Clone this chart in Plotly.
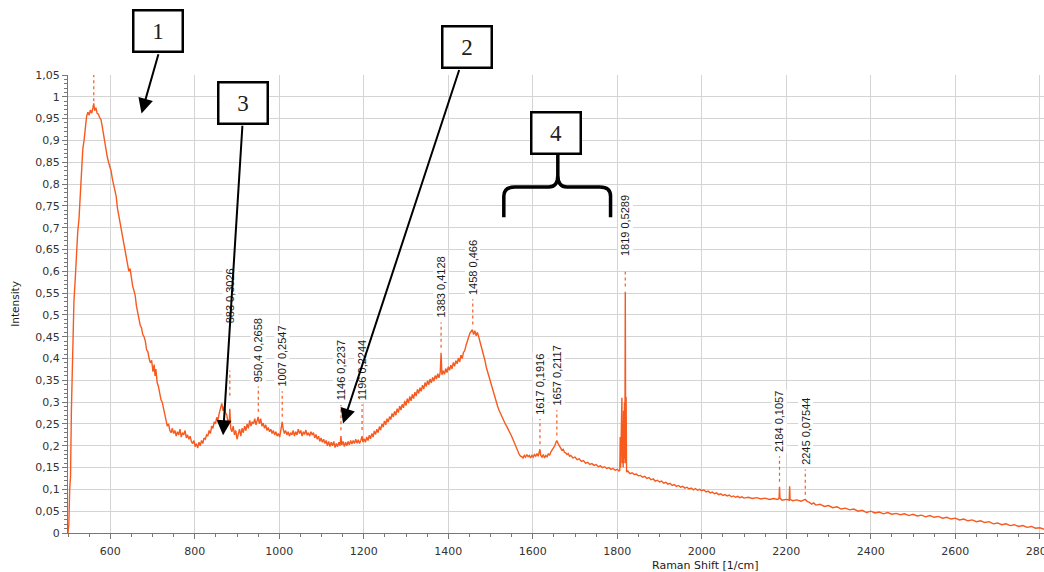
import plotly.graph_objects as go

# ---------------- data ----------------
# spectrum, (Raman shift [1/cm], intensity) pairs, split into regions
rise_and_band = [
    (500, 0.0), (502, 0.02), (504, 0.10), (506, 0.13), (508, 0.28), (510, 0.38),
    (512, 0.45), (514, 0.53), (517, 0.58), (520, 0.64), (523, 0.69), (526, 0.72),
    (529, 0.78), (532, 0.84), (535, 0.88), (538, 0.90), (541, 0.93), (544, 0.955),
    (547, 0.965), (550, 0.958), (553, 0.97), (556, 0.962), (559, 0.975), (561, 0.985),
    (563, 0.968), (566, 0.975), (569, 0.962), (572, 0.96), (575, 0.952), (578, 0.948),
    (581, 0.932), (584, 0.912), (587, 0.89), (590, 0.876), (593, 0.862), (596, 0.85),
    (599, 0.842), (602, 0.83), (605, 0.812), (608, 0.80), (611, 0.79), (614, 0.772),
    (617, 0.745), (620, 0.728), (623, 0.712), (626, 0.70), (629, 0.685), (632, 0.668),
    (635, 0.65), (638, 0.632), (641, 0.615), (644, 0.60), (647, 0.606), (650, 0.58),
    (653, 0.566), (656, 0.556), (659, 0.545), (662, 0.52), (665, 0.502), (668, 0.49),
    (671, 0.476), (674, 0.47), (677, 0.455), (680, 0.45), (683, 0.44), (686, 0.42),
    (689, 0.416), (692, 0.40), (695, 0.39), (698, 0.396), (701, 0.37), (704, 0.386),
    (706, 0.36), (708, 0.376), (711, 0.345), (714, 0.336), (717, 0.32), (720, 0.306),
    (723, 0.30), (726, 0.285), (729, 0.27), (732, 0.255), (735, 0.245), (738, 0.25),
    (741, 0.235), (744, 0.23), (747, 0.24), (750, 0.228), (753, 0.235), (756, 0.222),
    (759, 0.232), (762, 0.225), (765, 0.238), (768, 0.22), (771, 0.23), (774, 0.225),
    (777, 0.235), (780, 0.218), (783, 0.225), (786, 0.215), (789, 0.222), (792, 0.21),
    (795, 0.205), (798, 0.212), (801, 0.198), (804, 0.205), (807, 0.195), (810, 0.208),
]
fingerprint = [
    (813, 0.20), (816, 0.212), (819, 0.205), (822, 0.218), (825, 0.215), (828, 0.225),
    (831, 0.222), (834, 0.235), (837, 0.228), (840, 0.245), (843, 0.24), (846, 0.255),
    (849, 0.25), (852, 0.265), (855, 0.26), (858, 0.275), (861, 0.285), (864, 0.297),
    (867, 0.28), (870, 0.29), (873, 0.275), (876, 0.27), (879, 0.25), (882, 0.262),
    (883, 0.285), (885, 0.24), (888, 0.232), (891, 0.245), (894, 0.225), (897, 0.235),
    (900, 0.215), (903, 0.228), (906, 0.238), (909, 0.222), (912, 0.24), (915, 0.23),
    (918, 0.245), (921, 0.235), (924, 0.25), (927, 0.24), (930, 0.258), (933, 0.245),
    (936, 0.255), (939, 0.25), (942, 0.262), (945, 0.248), (948, 0.258), (950, 0.266),
    (953, 0.25), (956, 0.262), (959, 0.245), (962, 0.252), (965, 0.24), (968, 0.248),
    (971, 0.235), (974, 0.242), (977, 0.232), (980, 0.238), (983, 0.228), (986, 0.235),
    (989, 0.225), (992, 0.232), (995, 0.222), (998, 0.228), (1001, 0.22), (1004, 0.235),
    (1007, 0.255), (1009, 0.24), (1012, 0.228), (1015, 0.235), (1018, 0.225), (1021, 0.232),
    (1024, 0.222), (1027, 0.23), (1030, 0.225), (1033, 0.235), (1036, 0.222), (1039, 0.232),
    (1042, 0.225), (1045, 0.238), (1048, 0.228), (1051, 0.235), (1054, 0.222), (1057, 0.232),
    (1060, 0.226), (1063, 0.236), (1066, 0.224), (1069, 0.23), (1072, 0.222), (1075, 0.232),
    (1078, 0.225), (1081, 0.23), (1084, 0.218), (1087, 0.226), (1090, 0.215), (1093, 0.222),
    (1096, 0.21), (1099, 0.218), (1102, 0.208), (1105, 0.215), (1108, 0.205), (1111, 0.212),
    (1114, 0.20), (1117, 0.21), (1120, 0.198), (1123, 0.208), (1126, 0.20), (1129, 0.21),
    (1132, 0.196), (1135, 0.205), (1138, 0.198), (1141, 0.208), (1144, 0.20), (1146, 0.222),
    (1148, 0.202), (1151, 0.21), (1154, 0.198), (1157, 0.208), (1160, 0.20), (1163, 0.21),
    (1166, 0.202), (1169, 0.212), (1172, 0.204), (1175, 0.212), (1178, 0.205), (1181, 0.215),
    (1184, 0.206), (1187, 0.214), (1190, 0.205), (1193, 0.212), (1196, 0.222), (1198, 0.208),
]
ch_band = [
    (1201, 0.216), (1204, 0.208), (1207, 0.22), (1210, 0.212), (1213, 0.224), (1216, 0.216),
    (1219, 0.228), (1222, 0.22), (1225, 0.234), (1228, 0.226), (1231, 0.238), (1234, 0.23),
    (1237, 0.244), (1240, 0.236), (1243, 0.25), (1246, 0.243), (1249, 0.257), (1252, 0.248),
    (1255, 0.262), (1258, 0.254), (1261, 0.267), (1264, 0.26), (1267, 0.274), (1270, 0.266),
    (1273, 0.279), (1276, 0.27), (1279, 0.285), (1282, 0.276), (1285, 0.291), (1288, 0.282),
    (1291, 0.295), (1294, 0.287), (1297, 0.303), (1300, 0.292), (1303, 0.308), (1306, 0.298),
    (1309, 0.313), (1312, 0.303), (1315, 0.318), (1318, 0.308), (1321, 0.323), (1324, 0.314),
    (1327, 0.329), (1330, 0.32), (1333, 0.333), (1336, 0.325), (1339, 0.339), (1342, 0.33),
    (1345, 0.345), (1348, 0.336), (1351, 0.349), (1354, 0.34), (1357, 0.353), (1360, 0.344),
    (1363, 0.357), (1366, 0.348), (1369, 0.361), (1372, 0.353), (1375, 0.365), (1378, 0.356),
    (1381, 0.368), (1383, 0.413), (1385, 0.363), (1388, 0.372), (1391, 0.364), (1394, 0.377),
    (1397, 0.368), (1400, 0.381), (1403, 0.373), (1406, 0.385), (1409, 0.376), (1412, 0.391),
    (1415, 0.382), (1418, 0.395), (1421, 0.388), (1424, 0.401), (1427, 0.392), (1430, 0.408),
    (1433, 0.4), (1436, 0.414), (1439, 0.418), (1442, 0.43), (1445, 0.44), (1448, 0.452),
    (1451, 0.458), (1454, 0.462), (1457, 0.466), (1460, 0.455), (1463, 0.464), (1466, 0.452),
    (1469, 0.46), (1472, 0.45), (1475, 0.44), (1478, 0.43), (1481, 0.415), (1484, 0.405),
    (1487, 0.395), (1490, 0.38), (1493, 0.37), (1496, 0.355), (1499, 0.345), (1502, 0.335),
    (1505, 0.325), (1508, 0.315), (1511, 0.305), (1514, 0.298), (1517, 0.29), (1520, 0.282),
    (1523, 0.275), (1526, 0.268), (1529, 0.262), (1532, 0.255), (1535, 0.25), (1538, 0.245),
    (1541, 0.24), (1544, 0.235), (1547, 0.228), (1550, 0.222), (1553, 0.215), (1556, 0.208),
    (1559, 0.20), (1562, 0.192), (1565, 0.186), (1568, 0.18), (1571, 0.176), (1574, 0.175),
]
carbonyl_region = [
    (1577, 0.172), (1580, 0.178), (1583, 0.174), (1586, 0.18), (1589, 0.175), (1592, 0.178),
    (1595, 0.172), (1598, 0.178), (1601, 0.174), (1604, 0.18), (1607, 0.176), (1610, 0.182),
    (1613, 0.176), (1617, 0.192), (1619, 0.178), (1622, 0.174), (1625, 0.18), (1628, 0.172),
    (1631, 0.178), (1634, 0.175), (1637, 0.182), (1640, 0.178), (1643, 0.186), (1646, 0.19),
    (1649, 0.196), (1652, 0.20), (1655, 0.208), (1657, 0.212), (1660, 0.205), (1663, 0.20),
    (1666, 0.196), (1669, 0.19), (1672, 0.192), (1675, 0.185), (1678, 0.184), (1681, 0.18),
    (1684, 0.182), (1687, 0.176), (1690, 0.178), (1695, 0.172), (1700, 0.174), (1705, 0.168),
    (1710, 0.17), (1715, 0.164), (1720, 0.166), (1725, 0.16), (1730, 0.162), (1735, 0.157),
    (1740, 0.159), (1745, 0.155), (1750, 0.157), (1755, 0.152), (1760, 0.154), (1765, 0.15),
    (1770, 0.152), (1775, 0.148), (1780, 0.15), (1785, 0.146), (1790, 0.148), (1795, 0.144),
    (1800, 0.146), (1804, 0.142), (1806, 0.144), (1807, 0.22), (1808, 0.15), (1809, 0.27),
    (1810, 0.18), (1811, 0.31), (1812, 0.16), (1813, 0.24), (1814, 0.15), (1815, 0.28),
    (1816, 0.16), (1817, 0.30), (1818, 0.17), (1819, 0.553), (1820, 0.16), (1821, 0.312),
    (1822, 0.14), (1825, 0.142), (1830, 0.136),
]
tail = [
    (1835, 0.138), (1840, 0.134), (1845, 0.135), (1850, 0.131), (1855, 0.132), (1860, 0.128),
    (1865, 0.13), (1870, 0.125), (1875, 0.127), (1880, 0.122), (1885, 0.124), (1890, 0.119),
    (1895, 0.121), (1900, 0.117), (1905, 0.119), (1910, 0.114), (1915, 0.116), (1920, 0.112),
    (1925, 0.114), (1930, 0.109), (1935, 0.111), (1940, 0.107), (1945, 0.109), (1950, 0.105),
    (1955, 0.107), (1960, 0.103), (1965, 0.105), (1970, 0.101), (1975, 0.103), (1980, 0.099),
    (1985, 0.102), (1990, 0.098), (1995, 0.10), (2000, 0.097), (2005, 0.099), (2010, 0.094),
    (2015, 0.096), (2020, 0.092), (2025, 0.094), (2030, 0.09), (2035, 0.092), (2040, 0.088),
    (2045, 0.09), (2050, 0.086), (2055, 0.088), (2060, 0.085), (2065, 0.087), (2070, 0.083),
    (2075, 0.085), (2080, 0.082), (2085, 0.084), (2090, 0.081), (2095, 0.083), (2100, 0.08),
    (2110, 0.082), (2120, 0.079), (2130, 0.081), (2140, 0.078), (2150, 0.08), (2160, 0.077),
    (2170, 0.079), (2180, 0.077), (2183, 0.08), (2184, 0.106), (2185, 0.08), (2190, 0.075),
    (2200, 0.077), (2207, 0.075), (2208, 0.107), (2209, 0.077), (2215, 0.074), (2225, 0.076),
    (2235, 0.073), (2245, 0.077), (2250, 0.072), (2255, 0.07), (2260, 0.066), (2265, 0.069),
    (2270, 0.064), (2280, 0.066), (2290, 0.061), (2300, 0.063), (2310, 0.058), (2320, 0.06),
    (2330, 0.055), (2340, 0.057), (2350, 0.053), (2360, 0.055), (2370, 0.05), (2380, 0.052),
    (2390, 0.047), (2400, 0.05), (2410, 0.046), (2420, 0.048), (2430, 0.044), (2440, 0.047),
    (2450, 0.043), (2460, 0.045), (2470, 0.042), (2480, 0.044), (2490, 0.04), (2500, 0.043),
    (2510, 0.039), (2520, 0.041), (2530, 0.037), (2540, 0.04), (2550, 0.036), (2560, 0.038),
    (2570, 0.034), (2580, 0.036), (2590, 0.032), (2600, 0.034), (2610, 0.03), (2620, 0.032),
    (2630, 0.028), (2640, 0.03), (2650, 0.026), (2660, 0.028), (2670, 0.024), (2680, 0.026),
    (2690, 0.021), (2700, 0.023), (2710, 0.019), (2720, 0.021), (2730, 0.017), (2740, 0.019),
    (2750, 0.015), (2760, 0.017), (2770, 0.013), (2780, 0.015), (2790, 0.011), (2800, 0.012),
    (2812, 0.008),
]

# labelled peaks
peak_shift = [883, 950.4, 1007, 1146, 1196, 1383, 1458, 1617, 1657, 1819, 2184, 2245]
peak_value = ["0,3026", "0,2658", "0,2547", "0,2237", "0,2244", "0,4128", "0,466",
              "0,1916", "0,2117", "0,5289", "0,1057", "0,07544"]
# unlabelled (label off-scale) peak at the main band maximum
top_peak_shift = 561

# tick labels
y_tick_values = [i * 0.05 for i in range(22)]
y_tick_labels = ["0", "0,05", "0,1", "0,15", "0,2", "0,25", "0,3", "0,35", "0,4", "0,45",
                 "0,5", "0,55", "0,6", "0,65", "0,7", "0,75", "0,8", "0,85", "0,9", "0,95",
                 "1", "1,05"]
x_tick_values = [600, 800, 1000, 1200, 1400, 1600, 1800, 2000, 2200, 2400, 2600, 2800]

# callout boxes: text, centre (shift, intensity)
callout_text = ["1", "2", "3", "4"]
callout_x = [712, 1444, 914, 1654]
callout_y = [1.150, 1.115, 0.986, 0.917]
# arrows: start (tail) and tip
arrow_tail_x = [715, 1427, 913]
arrow_tail_y = [1.101, 1.065, 0.937]
arrow_tip_x = [674, 1151, 867]
arrow_tip_y = [0.962, 0.251, 0.224]

# ---------------- figure ----------------
X_RANGE = [500, 2810]
Y_RANGE = [0, 1.05]
LINE = "#f85a1e"
spectrum = rise_and_band + fingerprint + ch_band + carbonyl_region + tail
xs = [p[0] for p in spectrum]
ys = [p[1] for p in spectrum]

fig = go.Figure()
fig.add_trace(go.Scatter(x=xs, y=ys, mode="lines",
                         line=dict(color=LINE, width=1.4), hoverinfo="skip",
                         showlegend=False))

vals = [float(v.replace(",", ".")) for v in peak_value]
mx, my = [], []
for sx, v in zip(peak_shift, vals):
    base = 0.553 if sx == 1819 else v
    mx += [sx, sx, None]
    my += [base + 0.012, v + 0.07, None]
mx += [top_peak_shift, top_peak_shift]
my += [0.99, 1.06]
fig.add_trace(go.Scatter(x=mx, y=my, mode="lines",
                         line=dict(color=LINE, width=1.2, dash="dot"),
                         hoverinfo="skip", showlegend=False))

annotations = []
for sx, v, txt in zip(peak_shift, vals, peak_value):
    lab = (f"{sx:g}".replace(".", ",")) + " " + txt
    lift = 33
    if sx == 883:
        lift = 76
    elif sx == 1819:
        lift = 44
    annotations.append(dict(x=sx, y=v, xref="x", yref="y", text=lab, textangle=-90,
                            showarrow=False, xanchor="center", yanchor="bottom",
                            yshift=lift, bgcolor="white", borderpad=1,
                            font=dict(family="Liberation Sans, Arial", size=11,
                                      color="#1a1a1a")))

for tx, ty, hx, hy in zip(arrow_tail_x, arrow_tail_y, arrow_tip_x, arrow_tip_y):
    annotations.append(dict(x=hx, y=hy, ax=tx, ay=ty, xref="x", yref="y",
                            axref="x", ayref="y", text="", showarrow=True,
                            arrowhead=2, arrowsize=1.5, arrowwidth=2,
                            arrowcolor="black", standoff=0, startstandoff=0))


def to_paper_x(v):
    return (v - X_RANGE[0]) / (X_RANGE[1] - X_RANGE[0])


def to_paper_y(v):
    return (v - Y_RANGE[0]) / (Y_RANGE[1] - Y_RANGE[0])


for t, cx, cy in zip(callout_text, callout_x, callout_y):
    annotations.append(dict(x=to_paper_x(cx), y=to_paper_y(cy), xref="paper",
                            yref="paper", text=t, showarrow=False,
                            xanchor="center", yanchor="middle",
                            width=47, height=39, borderpad=0, borderwidth=2.5,
                            bordercolor="black", bgcolor="white",
                            font=dict(family="Liberation Serif, Times New Roman",
                                      size=23, color="#202020")))

annotations.append(dict(x=0.653, y=0, xref="paper", yref="paper",
                        yanchor="top", yshift=-24, showarrow=False,
                        text="Raman Shift [1/cm]",
                        font=dict(family="DejaVu Sans", size=11, color="#1a1a1a")))
annotations.append(dict(x=-0.0545, y=0.50, xref="paper", yref="paper",
                        xanchor="center", showarrow=False, textangle=-90,
                        text="Intensity",
                        font=dict(family="DejaVu Sans", size=10.5, color="#1a1a1a")))

# curly brace below box 4
brace_path = ("M 1531.5,0.7238 L 1531.5,0.772 Q 1531.5,0.7931 1557.5,0.7931 "
              "L 1638,0.7931 Q 1659.3,0.7931 1659.3,0.82 L 1659.3,0.8688 "
              "M 1659.3,0.82 Q 1659.3,0.7931 1680.6,0.7931 L 1758.8,0.7931 "
              "Q 1784.1,0.7931 1784.1,0.772 L 1784.1,0.7238")
shapes = [dict(type="path", path=brace_path, xref="x", yref="y",
               line=dict(color="black", width=3.5))]

fig.update_layout(
    width=1044, height=572,
    margin=dict(l=68, r=0, t=75, b=39),
    paper_bgcolor="white", plot_bgcolor="white",
    annotations=annotations, shapes=shapes,
    showlegend=False,
    xaxis=dict(range=X_RANGE, tickvals=x_tick_values,
               ticks="outside", ticklen=5, tickcolor="#777",
               showgrid=True, gridcolor="#d4d4d4", gridwidth=1,
               showline=True, linecolor="#777", linewidth=1,
               zeroline=False, ticklabelstandoff=3, automargin=False,
               ticklabeloverflow="allow",
               tickfont=dict(family="DejaVu Sans", size=11, color="#333"),
               minor=dict(dtick=50, tick0=500, ticks="outside", ticklen=3,
                          tickcolor="#777", showgrid=False)),
    yaxis=dict(range=Y_RANGE, tickvals=y_tick_values, ticktext=y_tick_labels,
               ticks="outside", ticklen=5, tickcolor="#777",
               showgrid=True, gridcolor="#d4d4d4", gridwidth=1,
               showline=True, linecolor="#777", linewidth=1,
               zeroline=False, automargin=False,
               tickfont=dict(family="DejaVu Sans", size=11, color="#333"),
               minor=dict(dtick=0.01, tick0=0, ticks="outside", ticklen=3,
                          tickcolor="#777", showgrid=False)),
)

fig.write_html("out.html", config={"displayModeBar": False},
               post_script="document.body.style.margin='0';"
                           "document.body.style.overflow='hidden';")
